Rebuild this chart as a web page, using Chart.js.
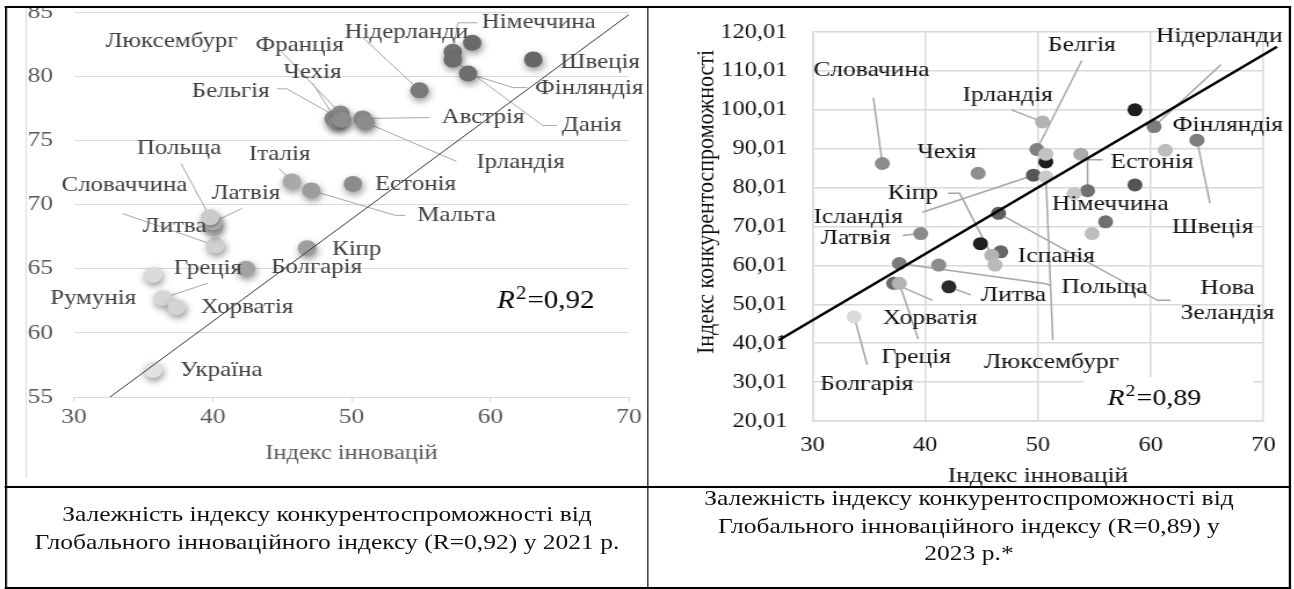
<!DOCTYPE html>
<html>
<head>
<meta charset="utf-8">
<script src="https://cdn.jsdelivr.net/npm/chart.js@4.4.1/dist/chart.umd.min.js"></script>
<style>
  body { margin: 0; background: #fff; width: 1294px; height: 589px; position: relative; overflow: hidden;
         font-family: "Liberation Serif", "Times New Roman", serif; --s: 1.16; }
  /* the source picture is stretched sideways, so the whole sheet is drawn narrow and widened */
  #stage { position: absolute; left: 0; top: 0; width: calc(1294px / var(--s)); height: 589px;
           transform: scaleX(var(--s)); transform-origin: 0 0; }
  .box { position: absolute; }
  .ln { position: absolute; background: #000; z-index: 5; }
  .cap { position: absolute; text-align: center; font-size: 22px; line-height: 27.5px; color: #111; z-index: 5; }
</style>
</head>
<body>
<div id="stage">
  <div class="box" style="left:0;top:0"><canvas id="c1" width="559" height="482"></canvas></div>
  <div class="box" style="left:calc(648px / var(--s));top:0"><canvas id="c2" width="553" height="491"></canvas></div>

  <div class="ln" style="left:0;top:0;width:100%;height:6px;background:#fff"></div>
  <div class="ln" style="left:calc(5px / var(--s));top:6px;width:calc(1286px / var(--s));height:2px"></div>
  <div class="ln" style="left:calc(5px / var(--s));top:6px;width:calc(2px / var(--s));height:583px"></div>
  <div class="ln" style="left:calc(1289px / var(--s));top:6px;width:calc(2px / var(--s));height:583px"></div>
  <div class="ln" style="left:calc(647px / var(--s));top:6px;width:calc(2px / var(--s));height:583px"></div>
  <div class="ln" style="left:calc(5px / var(--s));top:486px;width:calc(1286px / var(--s));height:2px"></div>
  <div class="ln" style="left:calc(5px / var(--s));top:587px;width:calc(1286px / var(--s));height:2px"></div>
  <div class="ln" style="left:calc(25px / var(--s));top:8px;width:1px;height:470px;background:#d9d9d9"></div>

  <div class="cap" style="left:calc(7px / var(--s));top:500px;width:calc(640px / var(--s))">Залежність індексу конкурентоспроможності від<br>Глобального інноваційного індексу (R=0,92) у 2021 р.</div>
  <div class="cap" style="left:calc(649px / var(--s));top:484px;width:calc(640px / var(--s))">Залежність індексу конкурентоспроможності від<br>Глобального інноваційного індексу (R=0,89) у<br>2023 р.*</div>
</div>

<script>
const S = 1.16;   // sideways stretch of the source
const F = '"Liberation Serif", "Times New Roman", serif';
Chart.defaults.font.family = F;

// ---------- 2021 ----------
const names21 = ['Україна', 'Румунія', 'Греція', 'Хорватія', 'Болгарія', 'Кіпр', 'Словаччина', 'Литва',
  'Латвія', 'Польща', 'Італія', 'Мальта', 'Естонія', 'Люксембург', 'Франція', 'Чехія', 'Бельгія',
  'Австрія', 'Ірландія', 'Нідерланди', 'Німеччина', 'Данія', '', 'Фінляндія', 'Швеція'];
const innov21 = [35.7, 35.7, 36.4, 37.4, 42.4, 46.8, 40.2, 40.0, 40.0, 39.8, 45.7, 47.1, 50.1, 48.7, 49.2,
  49.0, 49.3, 50.8, 51.0, 54.9, 57.3, 57.3, 58.7, 58.4, 63.1];
const compet21 = [57.1, 64.5, 62.7, 62.0, 65.0, 66.6, 66.8, 68.3, 68.6, 69.0, 71.8, 71.1, 71.6, 76.7, 77.1,
  76.4, 76.6, 76.7, 76.4, 78.9, 81.9, 81.3, 82.6, 80.2, 81.3];
const trendX21 = [32.6, 70];
const trendY21 = [55, 84.8];
const r2_21 = '0,92';

// ---------- 2023 ----------
const names23 = ['Словачина', 'Чехія', 'Латвія', 'Нова Зеландія', '', 'Іспанія', 'Кіпр', '', 'Польща', '',
  'Литва', 'Хорватія', 'Греція', 'Болгарія', 'Белгія', '', '', 'Ісландія', 'Люксембург', 'Ірландія', '',
  'Нідерланди', 'Фінляндія', 'Швеція', '', 'Естонія', '', 'Німеччина', '', ''];
const innov23 = [36.2, 44.7, 39.6, 46.5, 44.9, 46.7, 45.9, 46.2, 37.7, 41.2, 42.1, 37.2, 37.7, 33.7, 49.9,
  50.7, 50.7, 49.6, 50.7, 50.4, 58.6, 60.3, 61.3, 64.1, 53.8, 54.4, 53.2, 58.6, 56.0, 54.8];
const compet23 = [86.2, 83.7, 68.2, 73.4, 65.6, 63.5, 62.6, 60.1, 60.5, 60.1, 54.5, 55.4, 55.4, 46.8, 89.8,
  86.6, 88.6, 83.2, 82.8, 96.9, 100.0, 95.7, 89.6, 92.2, 88.6, 79.2, 78.5, 80.7, 71.2, 68.2];
const trendX23 = [27.0, 71.2];
const trendY23 = [40.77, 116.2];
const r2_23 = '0,89';

// point shades (styling)
const shade21 = ['#e2e2e2', '#dadada', '#d6d6d6', '#d4d4d4', '#a2a2a2', '#9e9e9e', '#cfcfcf', '#cacaca',
  '#c6c6c6', '#cbcbcb', '#a9a9a9', '#9c9c9c', '#8c8c8c', '#8e8e8e', '#8a8a8a', '#929292', '#8d8d8d',
  '#8a8a8a', '#8c8c8c', '#7a7a7a', '#727272', '#6c6c6c', '#6a6a6a', '#6e6e6e', '#676767'];
const shade23 = ['#8c8c8c', '#8e8e8e', '#8a8a8a', '#5e5e5e', '#1f1f1f', '#666666', '#b4b4b4', '#bababa',
  '#7b7b7b', '#8c8c8c', '#2a2a2a', '#6c6c6c', '#b3b3b3', '#dadada', '#7f7f7f', '#1e1e1e', '#c2c2c2',
  '#575757', '#cacaca', '#b2b2b2', '#1e1e1e', '#7c7c7c', '#bdbdbd', '#7d7d7d', '#ababab', '#6f6f6f',
  '#c6c6c6', '#545454', '#707070', '#bebebe'];

// label placement: offsets (screen px) from the point, optional leader waypoints
const place21 = [
  { at: [27, 0] }, { at: [-103, 23] }, { at: [11, -30], via: [[45, -15]] }, { at: [24, 0] },
  { at: [25, -1] }, { at: [25, 1] }, { at: [-154, -60], via: [[-93, -32]] }, { at: [-70, 0] },
  { at: [-1, -29], via: [[29, -14]] }, { at: [-73, -69], via: [[-29, -54]] },
  { at: [-43, -27], via: [[-13, -13]] }, { at: [106, 25], via: [[94, 25], [84, 25]] }, { at: [22, 0] },
  { at: [-228, -77] }, { at: [-85, -68], via: [[-63, -66]] }, { at: [-54, -50], via: [[-25, -39]] },
  { at: [-150, -28], via: [[-65, -31], [-55, -31]] }, { at: [79, -1], via: [[67, -1]] },
  { at: [111, 40], via: [[91, 39]] }, { at: [-75, -58], via: [[-57, -53]] },
  { at: [29, -29], via: [[25, -29], [5, -29]] }, { at: [109, 66], via: [[104, 66], [90, 66]] }, null,
  { at: [67, 15], via: [[59, 14], [45, 14]] }, { at: [27, 3] }
];
const place23 = [
  { at: [-69, -93], via: [[-9, -66]] }, { at: [-61, -21] }, { at: [-100, 5], via: [[-18, 2]] },
  { at: [229, 75], wrap: true, via: [[172, 87], [159, 87]] }, null, { at: [17, 4] },
  { at: [-104, -62], via: [[-44, -62], [-32, -62]] }, null,
  { at: [162, 24], via: [[152, 22], [145, 20]] }, null, { at: [32, 8], via: [[22, 8]] },
  { at: [-11, 35], via: [[39, 17]] }, { at: [-18, 74], via: [[19, 56]] }, { at: [-34, 67], via: [[13, 48]] },
  { at: [11, -104], via: [[45, -89]] }, null, null, { at: [-220, 42], via: [[-111, 37]] },
  { at: [-62, 185], via: [[7, 163]] }, { at: [-80, -27], via: [[-31, -12]] }, null,
  { at: [2, -90], via: [[67, -62]] }, { at: [7, -25] }, { at: [-25, 87], via: [[13, 63]] }, null,
  { at: [23, -29], via: [[15, -31], [0, -31]] }, null, { at: [-83, 19] }, null, null
];

const pts = (xs, ys) => xs.map((x, i) => ({ x, y: ys[i] }));

function labelPlugin(names, place, o) {
  return {
    id: 'ptLabels',
    beforeDatasetsDraw(chart) {
      const ctx = chart.ctx, els = chart.getDatasetMeta(1).data;
      ctx.save();
      ctx.strokeStyle = o.lead;
      ctx.lineWidth = o.leadW;
      place.forEach((l, i) => {
        if (!l || !l.via) return;
        const p = els[i];
        ctx.beginPath();
        l.via.forEach(([dx, dy], j) => j ? ctx.lineTo(p.x + dx / S, p.y + dy) : ctx.moveTo(p.x + dx / S, p.y + dy));
        ctx.lineTo(p.x, p.y);
        ctx.stroke();
      });
      if (o.box) {
        ctx.fillStyle = '#fff';
        ctx.fillRect(o.box[0] / S, o.box[1], o.box[2] / S, o.box[3]);
      }
      ctx.restore();
    },
    afterDatasetsDraw(chart) {
      const ctx = chart.ctx, els = chart.getDatasetMeta(1).data;
      ctx.save();
      ctx.font = o.font;
      ctx.fillStyle = o.color;
      ctx.textBaseline = 'middle';
      place.forEach((l, i) => {
        if (!l || !names[i]) return;
        const p = els[i];
        const lines = l.wrap ? names[i].split(' ') : [names[i]];
        ctx.textAlign = l.wrap ? 'center' : 'left';
        lines.forEach((t, k) => ctx.fillText(t, p.x + l.at[0] / S, p.y + l.at[1] + k * 25));
      });
      // R squared
      const rx = o.r2at[0] / S, ry = o.r2at[1], s = o.r2size;
      ctx.textAlign = 'left';
      ctx.textBaseline = 'alphabetic';
      ctx.fillStyle = '#000';
      ctx.font = `italic ${s}px ${F}`;
      ctx.fillText('R', rx, ry);
      let w = ctx.measureText('R').width + 1;
      ctx.font = `${Math.round(s * 0.7)}px ${F}`;
      ctx.fillText('2', rx + w, ry - s * 0.38);
      w += ctx.measureText('2').width + 1;
      ctx.font = `${s}px ${F}`;
      ctx.fillText('=' + o.r2, rx + w, ry);
      if (o.ytitle) {
        ctx.save();
        ctx.translate(o.ytitle.x / S, o.ytitle.y);
        ctx.rotate(-Math.PI / 2);
        ctx.font = `22px ${F}`;
        ctx.fillStyle = '#111';
        ctx.textAlign = 'center';
        ctx.textBaseline = 'middle';
        ctx.fillText(o.ytitle.text, 0, 0);
        ctx.restore();
      }
      ctx.restore();
    }
  };
}

const shadow = {
  id: 'shadow',
  beforeDatasetDraw(chart, args) {
    if (args.index !== 1) return;
    const c = chart.ctx;
    c.save();
    c.shadowColor = 'rgba(0,0,0,0.45)';
    c.shadowBlur = 7;
    c.shadowOffsetX = 1;
    c.shadowOffsetY = 3;
  },
  afterDatasetDraw(chart, args) {
    if (args.index === 1) chart.ctx.restore();
  }
};

// keep the plot box where the source has it: no extra room for edge labels
function fixX(h) { return s => { s.height = h; s.paddingLeft = 0; s.paddingRight = 0; }; }
function fixY(w) { return s => { s.width = w; s.paddingTop = 0; s.paddingBottom = 0; }; }

// 2021 chart  (plot area on screen: x 74..629, y 12..397)
const w1 = document.getElementById('c1').width;
new Chart(document.getElementById('c1'), {
  type: 'scatter',
  data: {
    datasets: [
      { data: pts(trendX21, trendY21), showLine: true, borderColor: '#333', borderWidth: 1, pointRadius: 0 },
      { data: pts(innov21, compet21), backgroundColor: shade21, borderColor: shade21, borderWidth: 0, pointRadius: 8 }
    ]
  },
  options: {
    responsive: false, animation: false, events: [],
    layout: { autoPadding: false, padding: { left: 10, right: w1 - 629 / S, top: 12, bottom: 15 } },
    plugins: { legend: { display: false }, tooltip: { enabled: false } },
    scales: {
      x: {
        type: 'linear', min: 30, max: 70,
        ticks: { stepSize: 10, color: '#595959', font: { size: 22, lineHeight: 1 }, padding: 4 },
        grid: { drawOnChartArea: false, drawTicks: true, tickLength: 5, color: '#d9d9d9' },
        border: { color: '#d9d9d9' },
        title: { display: true, text: 'Індекс інновацій', color: '#595959', font: { size: 21 }, padding: { top: 0, bottom: 1 } },
        afterFit: fixX(70)
      },
      y: {
        min: 55, max: 85,
        ticks: { stepSize: 5, color: '#595959', font: { size: 22, lineHeight: 1 }, padding: 21 / S },
        grid: { color: '#d9d9d9', drawTicks: false },
        border: { display: false },
        afterFit: fixY(74 / S - 10)
      }
    }
  },
  plugins: [shadow, labelPlugin(names21, place21, {
    font: `21.5px ${F}`, color: '#404040', lead: '#a6a6a6', leadW: 1,
    r2: r2_21, r2at: [497, 308], r2size: 25
  })]
});

// 2023 chart  (plot area on screen: x 812..1263, y 32..421)
const w2 = document.getElementById('c2').width;
new Chart(document.getElementById('c2'), {
  type: 'scatter',
  data: {
    datasets: [
      { data: pts(trendX23, trendY23), showLine: true, borderColor: '#000', borderWidth: 2.5, pointRadius: 0, clip: false },
      { data: pts(innov23, compet23), backgroundColor: shade23, borderColor: shade23, borderWidth: 0, pointRadius: 6.5 }
    ]
  },
  options: {
    responsive: false, animation: false, events: [],
    layout: { autoPadding: false, padding: { left: 0, right: w2 - 615 / S, top: 32, bottom: 0 } },
    plugins: { legend: { display: false }, tooltip: { enabled: false } },
    scales: {
      x: {
        type: 'linear', min: 30, max: 70,
        ticks: { stepSize: 10, color: '#111', font: { size: 21, lineHeight: 1 }, padding: 14 },
        grid: { color: '#d9d9d9', lineWidth: 1.5, drawTicks: false },
        border: { color: '#d9d9d9', width: 1.5 },
        title: { display: true, text: 'Індекс інновацій', color: '#111', font: { size: 22 }, padding: { top: 0, bottom: 2 } },
        afterFit: fixX(70)
      },
      y: {
        min: 20.01, max: 120.01,
        ticks: { stepSize: 10, color: '#111', font: { size: 21, lineHeight: 1 }, padding: 25 / S,
                 callback: v => v.toFixed(2).replace('.', ',') },
        grid: { color: '#d9d9d9', lineWidth: 1.5, drawTicks: false },
        border: { color: '#d9d9d9', width: 1.5 },
        afterFit: fixY(164 / S)
      }
    }
  },
  plugins: [labelPlugin(names23, place23, {
    font: `22px ${F}`, color: '#111', lead: '#a6a6a6', leadW: 1.5,
    r2: r2_23, r2at: [1107 - 648, 405], r2size: 24, box: [435, 377, 170, 43],
    ytitle: { x: 58, y: 202, text: 'Індекс конкурентоспроможності' }
  })]
});
</script>
</body>
</html>
